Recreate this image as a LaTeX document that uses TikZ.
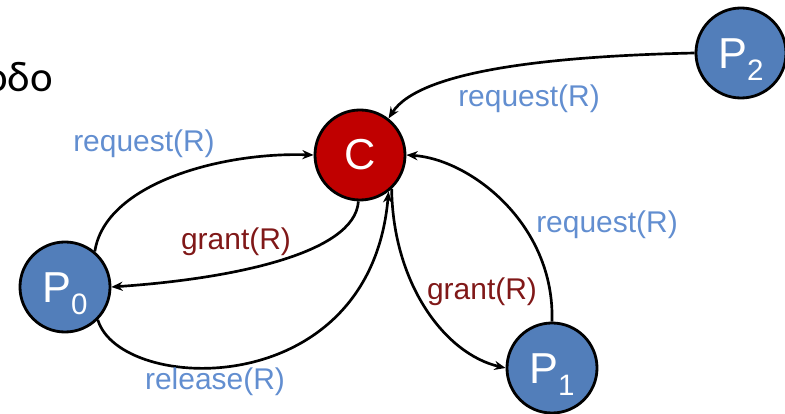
\documentclass[tikz,border=0pt]{standalone}
\usepackage{fontspec}
\setmainfont{Liberation Sans}
\newfontfamily\greekfont{Carlito}
\usepackage{xcolor}
\usetikzlibrary{arrows.meta}

\definecolor{procblue}{RGB}{82,126,186}
\definecolor{coordred}{RGB}{192,0,0}
\definecolor{reqblue}{RGB}{98,142,208}
\definecolor{grantred}{RGB}{128,24,24}

\newcommand{\procname}[1]{\rule{0pt}{31pt}P\raisebox{-8.5pt}{\fontsize{21}{21}\selectfont #1}}

\begin{document}
\begin{tikzpicture}[x=0.025cm,y=0.025cm,
  proc/.style={circle,draw=black,line width=2pt,fill=procblue,text=white,
    minimum size=2.25cm,inner sep=0pt,font=\fontsize{30.8}{31}\selectfont},
  coordnode/.style={proc,fill=coordred},
  msg/.style={line width=1.9pt,-{Stealth[length=8pt,width=6.5pt]}},
  reqlabel/.style={anchor=base,text=reqblue,font=\fontsize{21.3}{25}\selectfont},
  grantlabel/.style={reqlabel,text=grantred}]

\useasboundingbox (0,0) rectangle (785,414);

% Draw cut title
\node[anchor=base east,inner sep=0pt,font=\greekfont\fontsize{30.5}{31}\selectfont] (title) at (53,322) {οδο};

% Draw coordinator and processes
\node[coordnode] (C) at (360,259) {C};
\node[proc] (P0) at (65,127) {\procname{0}};
\node[proc] (P1) at (552,46) {\procname{1}};
\node[proc] (P2) at (741,361) {\procname{2}};

% Draw messages of P0
\draw[msg] (P0.50) .. controls (105,230) and (220,262) .. (C.west);
\draw[msg] (C.-92) .. controls (355,160) and (230,135) .. (P0.east);
\draw[msg] (P0.-45) .. controls (120,20) and (370,10) .. (C.-52);
\node[reqlabel] (reqA) at (144,262) {request(R)};
\node[grantlabel] (grantA) at (236,164) {grant(R)};
\node[reqlabel] (relA) at (215,24) {release(R)};

% Draw messages of P1
\draw[msg] (C.-47) .. controls (393,130) and (445,60) .. (P1.west);
\draw[msg] (P1.north) .. controls (555,190) and (470,255) .. (C.east);
\node[reqlabel] (reqB) at (607,181) {request(R)};
\node[grantlabel] (grantB) at (482,114) {grant(R)};

% Draw messages of P2
\draw[msg] (P2.west) .. controls (560,358) and (420,345) .. (C.52);
\node[reqlabel] (reqC) at (529,307) {request(R)};

\end{tikzpicture}
\end{document}
